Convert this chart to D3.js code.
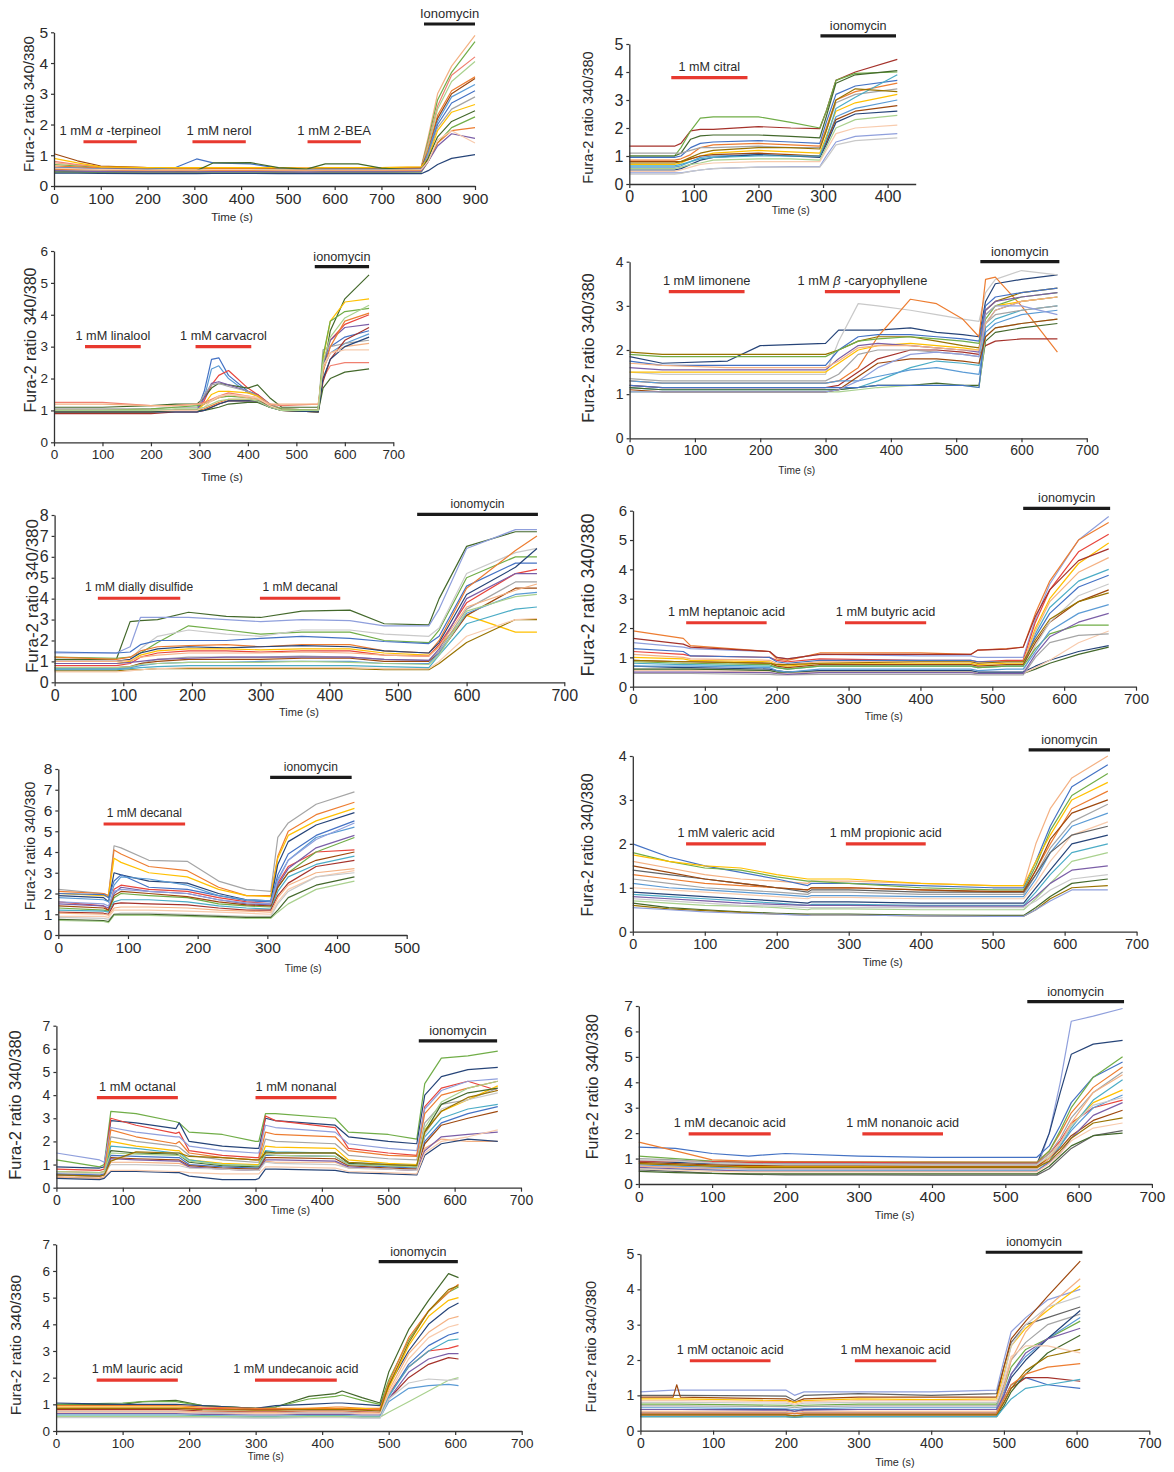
<!DOCTYPE html>
<html>
<head>
<meta charset="utf-8">
<script src="https://cdn.jsdelivr.net/npm/d3@7"></script>
<style>
  body { margin: 0; background: #fff; }
  svg text { font-family: "Liberation Sans", Arial, sans-serif; fill: #2b2b2b; }
</style>
</head>
<body>
<svg id="fig" width="1174" height="1472"></svg>
<script>
// trace colours (Excel-like palette)
const palette = {
  blue: "#4472c4", ltblue: "#5b9bd5", orange: "#ed7d31", grey: "#a5a5a5",
  yellow: "#ffc000", green: "#70ad47", navy: "#264478", brown: "#9e480e",
  dkgrey: "#636363", olive: "#997300", dkgreen: "#43682b", red: "#e8453c",
  peach: "#f4b183", lavender: "#8f9fdc", teal: "#4bacc6", purple: "#7b5ea7",
  ltgreen: "#a9d18e", ltgrey: "#c9c9c9", dkred: "#a5322b", ltorange: "#f8cbad",
  salmon: "#f08070"
};

// ---- panel 1 : alpha-terpineol / nerol / 2-BEA ----
const p1Time = [0, 50, 100, 200, 260, 305, 340, 420, 480, 540, 580, 650, 700, 785, 800, 820, 850, 900];
const p1Traces = [
  [0.75,0.68,0.62,0.6,0.6,0.6,0.6,0.6,0.6,0.58,0.6,0.6,0.6,0.62,1.6,3.0,3.9,4.9],
  [0.7,0.65,0.6,0.58,0.58,0.58,0.6,0.6,0.58,0.56,0.58,0.58,0.58,0.6,1.5,2.8,3.7,4.7],
  [0.8,0.7,0.62,0.6,0.6,0.6,0.6,0.6,0.6,0.58,0.6,0.6,0.6,0.6,1.4,2.6,3.6,4.2],
  [0.6,0.58,0.56,0.55,0.55,0.55,0.56,0.56,0.55,0.54,0.55,0.55,0.55,0.56,1.3,2.5,3.4,4.05],
  [0.65,0.62,0.58,0.56,0.56,0.56,0.57,0.57,0.56,0.55,0.56,0.56,0.56,0.58,1.2,2.3,3.1,3.55],
  [1.05,0.82,0.65,0.6,0.6,0.6,0.6,0.6,0.58,0.56,0.58,0.58,0.58,0.6,1.1,2.2,3.0,3.5],
  [0.55,0.53,0.52,0.5,0.5,0.5,0.52,0.52,0.5,0.5,0.5,0.5,0.5,0.52,1.1,2.1,2.9,3.3],
  [0.6,0.58,0.56,0.55,0.6,0.88,0.75,0.72,0.58,0.55,0.55,0.55,0.55,0.56,1.0,2.0,2.7,3.1],
  [0.5,0.5,0.48,0.47,0.47,0.47,0.48,0.48,0.47,0.46,0.47,0.47,0.47,0.48,1.0,1.9,2.5,2.9],
  [0.9,0.75,0.62,0.6,0.6,0.6,0.6,0.6,0.6,0.58,0.6,0.6,0.6,0.62,0.9,1.8,2.4,2.65],
  [0.48,0.47,0.46,0.46,0.47,0.5,0.75,0.76,0.6,0.55,0.72,0.72,0.58,0.5,0.9,1.6,2.1,2.45],
  [0.45,0.45,0.44,0.44,0.44,0.44,0.45,0.45,0.44,0.43,0.44,0.44,0.44,0.45,0.8,1.4,1.9,2.25],
  [0.55,0.53,0.52,0.5,0.5,0.5,0.5,0.5,0.5,0.5,0.5,0.5,0.5,0.5,0.8,1.4,1.8,1.9],
  [0.5,0.48,0.47,0.46,0.46,0.46,0.47,0.47,0.46,0.45,0.46,0.46,0.46,0.47,0.8,1.3,1.7,1.55],
  [0.42,0.42,0.41,0.4,0.4,0.4,0.41,0.41,0.4,0.4,0.4,0.4,0.4,0.4,0.5,0.7,0.9,1.02],
  [0.58,0.56,0.54,0.52,0.52,0.52,0.53,0.53,0.52,0.52,0.52,0.52,0.52,0.53,0.8,1.5,1.8,1.4]
];
const p1Colors = ["peach","green","salmon","ltgreen","orange","brown","ltblue","blue","grey","yellow","dkgreen","green","orange","purple","navy","ltorange"];
const p1Stim = ["1 mM α -terpineol", "1 mM nerol", "1 mM 2-BEA"];
const p1StimStart = [63, 296, 542];
const p1StimEnd = [177, 410, 656];
const p1Iono = [791, 900];
const p1XTicks = [0, 100, 200, 300, 400, 500, 600, 700, 800, 900];
const p1YTicks = [0, 1, 2, 3, 4, 5];

// ---- panel 2 : citral ----
const p2Time = [0, 70, 80, 95, 110, 130, 200, 250, 295, 305, 320, 350, 415];
const p2Traces = [
  [1.35,1.35,1.45,1.9,1.95,1.95,2.05,2.0,1.98,2.6,3.7,4.0,4.45],
  [1.0,1.0,1.3,1.9,2.35,2.4,2.4,2.2,2.0,2.6,3.7,3.95,4.0],
  [1.0,1.0,1.1,1.6,1.72,1.75,1.75,1.7,1.65,2.4,3.6,3.9,4.05],
  [0.95,0.95,1.0,1.3,1.45,1.5,1.55,1.5,1.45,2.2,3.2,3.5,3.7],
  [0.85,0.85,0.9,1.05,1.3,1.4,1.45,1.4,1.35,2.0,3.0,3.3,3.6],
  [1.1,1.1,1.1,1.2,1.3,1.3,1.35,1.3,1.3,1.9,2.9,3.2,3.4],
  [0.7,0.7,0.75,0.9,1.0,1.1,1.2,1.15,1.1,1.7,2.6,2.9,3.2],
  [0.6,0.6,0.65,0.8,0.95,1.0,1.05,1.0,1.0,1.5,2.4,2.7,3.0],
  [0.8,0.8,0.8,0.9,1.0,1.05,1.1,1.05,1.0,1.5,2.3,2.6,2.8],
  [0.5,0.5,0.55,0.7,0.85,0.95,1.05,1.0,0.95,1.4,2.2,2.5,2.6],
  [0.55,0.55,0.6,0.7,0.75,0.85,0.9,0.9,0.85,1.3,2.0,2.3,2.45],
  [0.45,0.45,0.5,0.6,0.7,0.75,0.8,0.8,0.8,1.2,1.8,2.0,2.1],
  [0.4,0.4,0.4,0.45,0.5,0.55,0.6,0.62,0.62,1.0,1.5,1.7,1.8],
  [0.35,0.35,0.38,0.45,0.5,0.55,0.6,0.6,0.6,0.9,1.4,1.55,1.65],
  [0.65,0.65,0.7,0.8,0.9,0.95,1.0,1.0,1.0,1.6,2.7,3.1,3.9],
  [0.75,0.75,0.8,0.95,1.1,1.2,1.3,1.3,1.25,1.9,3.0,3.4,3.3]
];
const p2Colors = ["dkred","green","dkgreen","blue","orange","grey","yellow","ltblue","brown","navy","ltgreen","ltorange","lavender","ltgrey","teal","olive"];
const p2Stim = ["1 mM citral"];
const p2StimStart = [65];
const p2StimEnd = [183];
const p2Iono = [296, 413];
const p2XTicks = [0, 100, 200, 300, 400];
const p2YTicks = [0, 1, 2, 3, 4, 5];

// ---- panel 3 : linalool / carvacrol ----
const p3Time = [0, 100, 200, 250, 295, 310, 325, 340, 360, 400, 420, 445, 470, 545, 555, 570, 600, 650];
const p3Traces = [
  [1.0,1.0,1.0,1.0,1.0,1.6,2.6,2.65,2.1,1.6,1.5,1.15,1.0,1.0,2.4,3.0,3.3,3.5],
  [0.95,0.95,0.95,0.95,0.95,1.4,2.3,2.4,2.0,1.55,1.5,1.2,1.0,1.0,2.3,2.8,3.1,3.4],
  [1.0,1.0,1.0,1.0,1.0,1.3,1.8,2.1,2.25,1.7,1.5,1.2,1.05,1.0,2.5,3.2,3.7,4.0],
  [1.1,1.1,1.15,1.2,1.2,1.4,1.7,1.85,1.8,1.7,1.8,1.4,1.1,1.1,2.2,3.5,4.5,5.25],
  [1.0,1.0,1.0,1.0,1.0,1.4,1.85,1.9,1.8,1.6,1.45,1.15,1.0,1.0,2.4,3.2,3.6,3.7],
  [1.05,1.05,1.05,1.1,1.1,1.5,1.8,1.85,1.75,1.6,1.45,1.2,1.05,1.0,2.9,3.0,3.1,3.2],
  [0.95,0.95,0.95,1.0,1.0,1.2,1.5,1.6,1.6,1.55,1.45,1.15,1.0,1.0,2.6,3.8,4.4,4.5],
  [1.25,1.25,1.15,1.15,1.2,1.25,1.35,1.45,1.55,1.45,1.4,1.2,1.15,1.2,2.0,2.4,2.5,2.5],
  [1.0,1.0,1.05,1.1,1.15,1.2,1.3,1.4,1.45,1.4,1.35,1.15,1.05,1.0,2.7,3.8,4.1,4.2],
  [0.9,0.9,0.9,0.95,0.95,1.0,1.1,1.2,1.3,1.3,1.3,1.15,1.0,0.95,1.9,2.6,3.2,3.6],
  [0.95,0.95,0.95,1.0,1.0,1.05,1.15,1.25,1.35,1.35,1.3,1.1,1.0,0.95,2.2,3.0,3.8,4.05],
  [1.2,1.2,1.15,1.15,1.2,1.2,1.3,1.4,1.5,1.4,1.35,1.2,1.2,1.2,2.3,2.8,3.0,3.1],
  [0.95,0.95,0.95,1.0,1.0,1.0,1.05,1.1,1.2,1.25,1.25,1.1,1.0,0.95,1.7,2.0,2.2,2.3],
  [0.95,0.95,0.95,0.95,0.95,1.0,1.1,1.2,1.3,1.3,1.3,1.1,1.0,0.95,2.0,2.6,3.0,3.3],
  [1.0,1.0,1.0,1.0,1.0,1.1,1.3,1.45,1.5,1.45,1.4,1.15,1.0,1.0,2.4,2.8,2.9,2.9],
  [1.0,1.0,1.0,1.05,1.05,1.1,1.2,1.3,1.35,1.35,1.3,1.1,1.0,1.0,2.5,3.3,3.9,4.3]
];
const p3Colors = ["blue","ltblue","red","dkgreen","purple","grey","yellow","salmon","green","dkred","orange","peach","dkgreen","navy","ltorange","ltgreen"];
const p3Stim = ["1 mM linalool", "1 mM carvacrol"];
const p3StimStart = [64, 292];
const p3StimEnd = [179, 407];
const p3Iono = [538, 650];
const p3XTicks = [0, 100, 200, 300, 400, 500, 600, 700];
const p3YTicks = [0, 1, 2, 3, 4, 5, 6];

// ---- panel 4 : limonene / beta-caryophyllene ----
const p4Time = [0, 50, 150, 200, 300, 320, 350, 380, 430, 470, 510, 535, 545, 560, 600, 655];
const p4Traces = [
  [1.85,1.7,1.75,2.1,2.15,2.45,2.45,2.45,2.5,2.4,2.35,2.3,3.1,3.5,3.6,3.7],
  [1.5,1.45,1.45,1.45,1.45,2.2,3.05,3.0,2.9,2.8,2.7,2.65,3.3,3.6,3.8,3.7],
  [1.3,1.25,1.25,1.25,1.25,1.3,1.6,2.3,3.15,3.05,2.7,2.3,3.6,3.65,3.0,1.95],
  [1.95,1.9,1.9,1.9,1.9,2.0,2.2,2.3,2.3,2.2,2.1,2.05,2.9,3.1,3.3,3.4],
  [1.75,1.65,1.65,1.65,1.65,2.0,2.3,2.35,2.35,2.3,2.25,2.2,3.0,3.2,3.3,3.4],
  [1.9,1.85,1.85,1.85,1.85,2.0,2.2,2.25,2.3,2.25,2.2,2.15,2.7,3.0,3.2,3.3],
  [1.2,1.15,1.15,1.15,1.15,1.2,1.5,1.8,2.0,2.0,1.95,1.9,2.1,2.2,2.25,2.25],
  [1.15,1.1,1.1,1.1,1.1,1.1,1.15,1.3,1.6,1.75,1.7,1.65,2.5,2.7,2.9,3.0],
  [1.3,1.25,1.25,1.25,1.25,1.3,1.3,1.4,1.55,1.6,1.5,1.45,2.4,2.6,2.8,2.9],
  [1.15,1.1,1.1,1.1,1.1,1.1,1.15,1.2,1.2,1.25,1.2,1.2,2.2,2.4,2.5,2.6],
  [1.05,1.05,1.05,1.05,1.05,1.05,1.1,1.15,1.2,1.2,1.2,1.15,2.3,2.5,2.6,2.7],
  [1.2,1.15,1.15,1.15,1.15,1.15,1.15,1.2,1.2,1.2,1.2,1.15,2.6,2.9,3.1,3.2],
  [1.5,1.5,1.5,1.5,1.5,1.7,2.0,2.1,2.15,2.1,2.05,2.0,2.8,3.0,3.1,3.2],
  [1.35,1.3,1.3,1.3,1.3,1.45,1.9,2.0,2.0,1.95,1.9,1.85,2.6,2.8,2.9,3.0],
  [1.1,1.05,1.05,1.05,1.05,1.1,1.4,1.7,1.8,1.8,1.75,1.7,2.3,2.5,2.6,2.7],
  [1.6,1.55,1.55,1.55,1.55,1.8,2.1,2.15,2.1,2.05,2.0,1.95,2.9,3.1,3.2,3.3],
  [1.7,1.65,1.6,1.6,1.6,1.75,2.05,2.1,2.1,2.05,2.0,2.0,2.6,2.9,3.1,3.2],
  [1.05,1.05,1.05,1.05,1.05,1.1,1.3,1.6,1.9,1.95,1.9,1.85,2.8,3.0,3.0,2.8]
];
const p4Colors = ["navy","ltgrey","orange","olive","blue","green","dkred","teal","ltblue","dkgreen","ltgreen","blue","yellow","grey","brown","purple","peach","lavender"];
const p4Stim = ["1 mM limonene", "1 mM β -caryophyllene"];
const p4StimStart = [60, 299];
const p4StimEnd = [176, 414];
const p4Iono = [537, 658];
const p4XTicks = [0, 100, 200, 300, 400, 500, 600, 700];
const p4YTicks = [0, 1, 2, 3, 4];

// ---- panel 5 : diallyl disulfide / decanal ----
const p5Time = [0, 90, 110, 125, 150, 195, 250, 300, 360, 430, 480, 545, 560, 600, 650, 672];
const p5Traces = [
  [1.1,1.1,2.9,2.95,3.0,3.35,3.15,3.1,3.4,3.45,2.8,2.75,4.0,6.5,7.2,7.2],
  [1.4,1.4,1.7,3.1,3.1,3.1,3.0,2.9,3.0,2.95,2.7,2.7,3.5,6.4,7.3,7.3],
  [1.2,1.15,1.2,1.4,1.9,2.7,2.5,2.3,2.4,2.4,2.0,1.9,2.5,5.0,6.0,6.0],
  [1.0,1.0,1.1,1.6,2.2,2.5,2.3,2.2,2.5,2.5,2.3,2.2,2.6,5.2,6.2,6.4],
  [1.45,1.4,1.45,1.8,2.0,2.0,2.0,2.1,2.2,2.1,1.95,1.85,2.2,4.6,5.7,5.7],
  [1.2,1.1,1.2,1.5,1.7,1.75,1.8,1.7,1.8,1.8,1.5,1.4,2.0,4.5,6.3,7.0],
  [1.0,1.0,1.1,1.4,1.6,1.7,1.65,1.7,1.75,1.7,1.5,1.4,1.9,4.2,5.5,6.4],
  [0.9,0.9,1.0,1.3,1.5,1.6,1.6,1.55,1.6,1.6,1.4,1.3,1.7,3.2,2.4,2.4],
  [0.8,0.8,0.9,1.2,1.4,1.5,1.5,1.45,1.5,1.5,1.3,1.25,1.8,3.8,5.2,5.4],
  [0.6,0.6,0.7,0.9,1.1,1.2,1.2,1.2,1.25,1.2,1.1,1.05,1.5,3.5,4.8,4.8],
  [0.7,0.7,0.75,0.9,1.0,1.1,1.1,1.1,1.15,1.15,1.0,1.0,1.4,3.2,4.5,4.5],
  [0.9,0.9,0.95,1.0,1.1,1.15,1.2,1.2,1.2,1.2,1.1,1.05,1.6,4.0,5.2,5.2],
  [0.65,0.65,0.7,0.8,0.9,0.95,0.95,1.0,1.0,1.0,0.9,0.9,1.4,3.3,4.2,4.3],
  [0.55,0.55,0.6,0.6,0.65,0.65,0.65,0.65,0.65,0.65,0.6,0.6,0.9,1.9,3.0,3.0],
  [0.5,0.5,0.55,0.6,0.65,0.7,0.7,0.7,0.7,0.7,0.65,0.65,1.0,2.2,3.0,3.05],
  [0.6,0.6,0.65,0.7,0.75,0.8,0.8,0.8,0.8,0.8,0.75,0.7,1.3,2.8,3.5,3.6],
  [1.0,1.0,1.05,1.2,1.3,1.4,1.4,1.4,1.45,1.4,1.3,1.25,1.7,3.6,4.4,4.7],
  [0.7,0.7,0.75,0.85,0.9,0.95,0.95,0.95,1.0,0.95,0.9,0.85,1.3,3.4,4.1,4.2]
];
const p5Colors = ["dkgreen","lavender","green","ltgrey","blue","orange","navy","yellow","red","grey","brown","purple","ltblue","olive","ltorange","teal","peach","ltgreen"];
const p5Stim = ["1 mM dially disulfide", "1 mM decanal"];
const p5StimStart = [63, 299];
const p5StimEnd = [183, 416];
const p5Iono = [528, 673];
const p5XTicks = [0, 100, 200, 300, 400, 500, 600, 700];
const p5YTicks = [0, 1, 2, 3, 4, 5, 6, 7, 8];

// ---- panel 6 : heptanoic / butyric acid ----
const p6Time = [0, 70, 80, 190, 200, 215, 260, 400, 470, 480, 520, 543, 560, 580, 620, 662];
const p6Traces = [
  [1.5,1.35,1.3,1.2,1.0,0.95,1.1,1.05,1.05,1.0,1.0,1.0,2.3,3.5,5.0,5.8],
  [1.9,1.65,1.4,1.2,0.95,0.9,1.15,1.15,1.1,1.25,1.3,1.35,2.5,3.6,5.0,5.6],
  [1.2,1.1,1.05,1.0,0.9,0.85,0.95,0.9,0.9,0.85,0.9,0.9,2.2,3.3,4.6,5.2],
  [1.0,0.95,0.9,0.85,0.75,0.7,0.8,0.8,0.8,0.75,0.8,0.8,2.0,3.0,4.2,4.9],
  [0.8,0.75,0.75,0.7,0.65,0.6,0.7,0.7,0.7,0.65,0.7,0.7,1.8,2.7,3.6,4.0],
  [1.3,1.2,1.05,1.0,0.85,0.8,0.9,0.9,0.9,0.85,0.85,0.85,1.7,2.5,3.4,3.8],
  [0.9,0.85,0.85,0.8,0.7,0.65,0.75,0.75,0.75,0.7,0.75,0.75,1.5,2.2,2.9,3.3],
  [0.6,0.6,0.6,0.55,0.5,0.5,0.55,0.55,0.55,0.5,0.5,0.5,1.4,2.2,3.1,3.5],
  [0.85,0.8,0.8,0.75,0.65,0.6,0.7,0.7,0.7,0.65,0.7,0.7,1.3,1.8,2.1,2.1],
  [0.7,0.65,0.65,0.6,0.55,0.5,0.55,0.55,0.55,0.5,0.5,0.5,0.7,0.9,1.2,1.4],
  [0.6,0.6,0.6,0.55,0.5,0.5,0.5,0.5,0.5,0.45,0.45,0.45,0.6,0.8,1.1,1.35],
  [0.55,0.55,0.55,0.5,0.45,0.45,0.5,0.5,0.5,0.45,0.45,0.45,0.65,0.9,1.5,1.9],
  [0.7,0.7,0.7,0.65,0.55,0.5,0.6,0.6,0.6,0.55,0.6,0.6,1.2,1.9,2.5,2.8],
  [1.1,1.0,0.95,0.9,0.8,0.75,0.85,0.85,0.85,0.8,0.85,0.85,1.9,2.9,3.9,4.4],
  [0.45,0.45,0.45,0.42,0.4,0.4,0.42,0.42,0.42,0.4,0.4,0.4,1.0,1.5,1.75,1.8],
  [0.5,0.5,0.5,0.48,0.45,0.42,0.48,0.48,0.48,0.45,0.45,0.45,1.1,1.7,2.2,2.5],
  [1.65,1.45,1.35,1.2,1.0,0.95,1.1,1.1,1.1,1.25,1.28,1.35,2.4,3.3,4.3,4.7],
  [0.9,0.85,0.85,0.8,0.75,0.75,0.8,0.85,0.85,0.8,0.85,0.85,1.6,2.3,2.9,3.2]
];
const p6Colors = ["lavender","orange","red","yellow","teal","blue","brown","ltgrey","green","navy","dkgreen","ltorange","ltblue","peach","grey","purple","dkred","olive"];
const p6Stim = ["1 mM heptanoic acid", "1 mM butyric acid"];
const p6StimStart = [74, 295];
const p6StimEnd = [186, 408];
const p6Iono = [543, 664];
const p6XTicks = [0, 100, 200, 300, 400, 500, 600, 700];
const p6YTicks = [0, 1, 2, 3, 4, 5, 6];

// ---- panel 7 : decanal ----
const p7Time = [0, 65, 72, 80, 90, 130, 185, 230, 270, 305, 315, 330, 370, 425];
const p7Traces = [
  [2.2,2.0,1.9,4.3,4.2,3.6,3.55,2.6,2.2,2.1,4.7,5.4,6.3,6.9],
  [2.1,2.0,1.9,4.1,3.9,3.3,3.1,2.3,1.9,1.9,3.8,5.0,5.8,6.4],
  [2.0,1.9,1.85,3.7,3.5,3.0,2.8,2.2,1.9,1.85,3.7,4.8,5.5,6.1],
  [1.9,1.8,1.6,3.0,2.9,2.6,2.5,2.0,1.7,1.65,3.4,4.5,5.3,5.9],
  [2.0,1.95,1.8,2.6,2.9,2.3,2.2,1.9,1.65,1.6,2.9,3.9,4.8,5.5],
  [1.8,1.7,1.6,2.4,2.8,2.7,2.4,1.9,1.7,1.65,2.7,3.6,4.7,5.2],
  [1.6,1.4,1.2,2.2,2.4,2.2,2.1,1.8,1.6,1.5,2.5,3.3,4.0,4.1],
  [1.5,1.4,1.3,2.0,2.3,2.1,2.0,1.7,1.5,1.45,2.4,3.2,4.2,4.8],
  [1.3,1.2,1.15,1.8,2.0,1.9,1.8,1.5,1.4,1.35,2.3,3.0,4.0,4.7],
  [1.2,1.15,1.1,1.6,1.7,1.7,1.6,1.4,1.3,1.25,2.1,2.8,3.4,3.8],
  [1.1,1.05,1.0,1.5,1.55,1.5,1.45,1.3,1.2,1.2,1.9,2.5,3.3,3.6],
  [1.05,1.0,0.95,1.3,1.35,1.35,1.3,1.2,1.15,1.1,1.8,2.4,3.0,3.2],
  [0.9,0.9,0.85,1.2,1.2,1.2,1.15,1.1,1.05,1.0,1.6,2.2,2.8,3.1],
  [0.7,0.65,0.6,0.95,0.95,0.95,0.9,0.85,0.8,0.8,1.1,1.5,2.2,2.6],
  [0.85,0.8,0.75,1.0,1.05,1.05,1.0,0.95,0.9,0.9,1.5,2.1,2.8,3.0],
  [0.75,0.7,0.65,1.0,1.0,1.0,0.95,0.9,0.85,0.85,1.2,1.8,2.4,2.8],
  [1.4,1.3,1.2,1.9,2.1,2.0,1.85,1.6,1.45,1.4,2.3,3.0,3.6,4.0],
  [1.6,1.5,1.4,2.1,2.2,2.1,2.0,1.7,1.55,1.5,2.6,3.6,4.6,5.4]
];
const p7Colors = ["grey","orange","yellow","navy","blue","ltblue","red","purple","green","teal","dkred","peach","ltorange","ltgreen","ltgrey","dkgreen","brown","lavender"];
const p7Stim = ["1 mM decanal"];
const p7StimStart = [65];
const p7StimEnd = [182];
const p7Iono = [304, 421];
const p7XTicks = [0, 100, 200, 300, 400, 500];
const p7YTicks = [0, 1, 2, 3, 4, 5, 6, 7, 8];

// ---- panel 8 : valeric / propionic acid ----
const p8Time = [0, 50, 100, 150, 200, 243, 248, 300, 400, 500, 543, 560, 580, 610, 660];
const p8Traces = [
  [1.6,1.45,1.3,1.2,1.15,1.1,1.15,1.15,1.1,1.05,1.05,2.0,2.8,3.5,4.0],
  [2.0,1.7,1.5,1.35,1.2,1.05,1.1,1.1,1.05,1.0,1.0,1.6,2.4,3.3,3.8],
  [1.8,1.6,1.45,1.4,1.25,1.15,1.15,1.1,1.0,0.95,0.95,1.5,2.3,3.1,3.6],
  [1.75,1.6,1.5,1.45,1.3,1.2,1.2,1.2,1.1,1.05,1.05,1.6,2.2,3.0,3.4],
  [1.3,1.2,1.1,1.05,1.0,0.95,1.0,1.0,0.95,0.9,0.9,1.4,2.0,2.8,3.2],
  [1.2,1.1,1.0,0.95,0.9,0.85,0.9,0.9,0.85,0.85,0.85,1.3,1.9,2.5,2.9],
  [1.1,1.0,0.95,0.9,0.85,0.8,0.82,0.82,0.8,0.8,0.8,1.2,1.8,2.4,2.7],
  [1.0,0.95,0.9,0.85,0.8,0.75,0.78,0.78,0.75,0.75,0.75,1.1,1.6,2.2,2.5],
  [0.9,0.85,0.8,0.75,0.7,0.65,0.68,0.68,0.65,0.65,0.65,1.0,1.4,2.0,2.2],
  [0.85,0.8,0.75,0.7,0.65,0.6,0.62,0.62,0.6,0.6,0.6,0.9,1.3,1.8,2.0],
  [0.7,0.65,0.6,0.58,0.55,0.5,0.52,0.52,0.5,0.5,0.5,0.75,1.1,1.6,1.8],
  [0.8,0.75,0.7,0.65,0.62,0.6,0.6,0.6,0.58,0.58,0.58,0.8,1.1,1.4,1.5],
  [0.75,0.7,0.65,0.6,0.58,0.55,0.55,0.55,0.55,0.55,0.55,0.7,0.95,1.2,1.3],
  [0.65,0.55,0.5,0.45,0.42,0.4,0.4,0.4,0.38,0.37,0.37,0.55,0.8,1.1,1.2],
  [0.6,0.52,0.48,0.44,0.4,0.38,0.38,0.38,0.36,0.35,0.35,0.5,0.75,1.0,1.05],
  [0.55,0.5,0.45,0.42,0.4,0.37,0.38,0.38,0.36,0.35,0.35,0.5,0.7,0.95,0.95],
  [1.4,1.3,1.2,1.1,1.0,0.9,0.95,0.95,0.9,0.9,0.9,1.3,1.8,2.2,2.4],
  [1.5,1.35,1.2,1.1,1.0,0.95,1.0,1.0,0.95,0.92,0.92,1.4,2.1,2.7,3.0]
];
const p8Colors = ["peach","blue","green","yellow","orange","grey","ltblue","ltorange","navy","teal","ltgreen","purple","ltgrey","dkgreen","olive","lavender","dkgrey","brown"];
const p8Stim = ["1 mM valeric acid", "1 mM propionic acid"];
const p8StimStart = [74, 296];
const p8StimEnd = [185, 407];
const p8Iono = [550, 663];
const p8XTicks = [0, 100, 200, 300, 400, 500, 600, 700];
const p8YTicks = [0, 1, 2, 3, 4];

// ---- panel 9 : octanal / nonanal ----
const p9Time = [0, 65, 72, 82, 120, 180, 185, 200, 250, 300, 305, 315, 330, 420, 440, 500, 543, 555, 580, 620, 665];
const p9Traces = [
  [1.2,0.9,1.0,3.3,3.2,2.85,2.8,2.4,2.3,2.0,2.0,3.2,3.2,3.0,2.4,2.3,2.1,4.5,5.6,5.7,5.9],
  [0.9,0.85,0.9,2.9,2.8,2.55,2.8,2.0,1.8,1.7,1.7,3.0,2.9,2.7,2.2,2.0,1.9,4.0,4.8,5.1,5.2],
  [0.8,0.75,0.8,3.0,2.7,2.35,2.4,1.6,1.4,1.3,1.3,3.1,2.9,2.6,1.7,1.5,1.4,3.5,4.3,4.6,4.2],
  [1.5,1.2,1.1,2.6,2.4,2.2,2.2,1.8,1.6,1.5,1.5,2.7,2.6,2.4,1.9,1.7,1.6,3.4,4.2,4.6,4.7],
  [0.7,0.65,0.7,2.5,2.2,1.9,2.0,1.5,1.3,1.2,1.2,2.4,2.3,2.2,1.6,1.4,1.35,3.2,4.0,4.3,4.6],
  [0.6,0.55,0.6,2.2,2.0,1.8,1.75,1.4,1.2,1.1,1.1,2.1,2.0,1.9,1.4,1.25,1.2,2.8,3.6,3.8,4.3],
  [0.5,0.5,0.55,2.0,1.8,1.6,1.6,1.2,1.05,1.0,1.0,1.8,1.75,1.7,1.2,1.05,1.0,2.5,3.3,3.8,4.4],
  [0.55,0.5,0.55,1.8,1.7,1.5,1.5,1.2,1.0,0.95,0.95,1.6,1.55,1.5,1.1,1.0,0.95,2.2,3.0,3.4,3.6],
  [0.45,0.45,0.5,1.6,1.5,1.45,1.4,1.1,0.95,0.9,0.9,1.55,1.5,1.5,1.05,0.95,0.9,2.4,3.6,4.1,4.3],
  [0.6,0.55,0.6,1.4,1.35,1.3,1.3,1.0,0.9,0.85,0.85,1.4,1.4,1.35,1.0,0.9,0.85,2.0,2.8,3.2,3.5],
  [0.5,0.45,0.5,1.3,1.25,1.2,1.2,0.95,0.85,0.8,0.8,1.3,1.3,1.25,0.95,0.85,0.8,1.9,2.7,3.0,3.3],
  [0.45,0.4,0.45,1.1,1.1,1.05,1.05,0.9,0.8,0.75,0.75,1.15,1.1,1.1,0.85,0.8,0.75,1.7,2.1,2.0,2.0],
  [0.55,0.5,0.55,1.25,1.2,1.15,1.15,0.9,0.8,0.75,0.75,1.2,1.2,1.15,0.9,0.8,0.75,1.6,2.2,2.3,2.4],
  [0.4,0.35,0.4,0.7,0.7,0.65,0.65,0.5,0.35,0.35,0.4,0.8,0.8,0.75,0.65,0.6,0.55,1.4,1.9,2.1,2.0],
  [0.5,0.45,0.5,0.75,0.75,0.7,0.7,0.65,0.6,0.6,0.6,0.9,0.9,0.85,0.7,0.65,0.6,1.5,2.0,2.2,2.5],
  [0.65,0.6,0.65,1.0,1.0,0.95,0.95,0.85,0.8,0.75,0.75,1.1,1.05,1.0,0.85,0.8,0.75,2.3,3.4,3.8,4.1],
  [0.7,0.65,0.7,1.5,1.45,1.4,1.4,1.15,1.0,0.95,0.95,1.45,1.4,1.35,1.0,0.95,0.9,2.6,3.7,4.3,4.6],
  [0.55,0.5,0.55,1.15,1.55,1.5,1.5,1.35,1.3,1.2,1.2,1.5,1.5,1.5,1.1,1.0,0.95,2.4,3.3,3.9,4.2]
];
const p9Colors = ["green","navy","red","lavender","orange","grey","yellow","teal","dkgreen","blue","brown","peach","purple","navy","ltorange","ltgrey","ltgreen","olive"];
const p9Stim = ["1 mM octanal", "1 mM nonanal"];
const p9StimStart = [61, 300];
const p9StimEnd = [183, 422];
const p9Iono = [546, 664];
const p9XTicks = [0, 100, 200, 300, 400, 500, 600, 700];
const p9YTicks = [0, 1, 2, 3, 4, 5, 6, 7];

// ---- panel 10 : decanoic / nonanoic acid ----
const p10Time = [0, 50, 100, 150, 200, 300, 400, 500, 543, 560, 575, 590, 620, 660];
const p10Traces = [
  [0.7,0.65,0.6,0.58,0.58,0.58,0.58,0.58,0.58,2.0,4.0,6.4,6.6,6.9],
  [0.9,0.85,0.8,0.78,0.78,0.78,0.78,0.78,0.78,2.0,3.6,5.1,5.5,5.65],
  [1.45,1.4,1.2,1.1,1.2,1.1,1.05,1.05,1.05,1.5,2.3,3.2,4.2,4.8],
  [1.65,1.3,0.95,0.9,0.88,0.87,0.87,0.86,0.86,1.3,2.0,2.8,3.8,4.6],
  [1.1,1.0,0.9,0.85,0.85,0.85,0.85,0.85,0.85,1.3,2.1,3.0,4.2,5.0],
  [0.9,0.9,0.88,0.85,0.85,0.85,0.82,0.82,0.82,1.2,1.7,2.4,3.0,3.3],
  [1.0,0.95,0.85,0.8,0.78,0.78,0.78,0.78,0.78,1.2,1.8,2.6,3.6,4.4],
  [0.8,0.75,0.7,0.68,0.68,0.68,0.68,0.68,0.68,1.1,1.6,2.3,3.2,3.7],
  [0.75,0.7,0.65,0.62,0.62,0.62,0.62,0.62,0.62,1.0,1.5,2.1,3.0,3.5],
  [0.6,0.58,0.55,0.52,0.52,0.52,0.52,0.52,0.52,0.9,1.5,2.2,3.3,4.1],
  [0.85,0.8,0.75,0.72,0.72,0.72,0.7,0.7,0.7,1.0,1.4,1.9,2.5,2.9],
  [0.65,0.6,0.55,0.5,0.5,0.5,0.5,0.5,0.5,0.85,1.2,1.8,2.7,3.2],
  [0.55,0.5,0.42,0.38,0.36,0.36,0.35,0.35,0.35,0.6,1.0,1.4,1.9,2.1],
  [0.5,0.45,0.42,0.4,0.4,0.4,0.4,0.4,0.4,0.7,1.1,1.5,1.9,2.0],
  [0.7,0.65,0.62,0.6,0.6,0.6,0.6,0.6,0.6,1.0,1.6,2.4,3.6,4.3],
  [0.95,0.9,0.82,0.78,0.75,0.75,0.75,0.75,0.75,1.1,1.6,2.3,3.1,3.4],
  [0.8,0.75,0.7,0.65,0.65,0.65,0.65,0.65,0.65,0.9,1.3,1.8,2.4,2.6],
  [0.6,0.55,0.5,0.48,0.48,0.48,0.48,0.48,0.48,0.8,1.2,1.7,2.2,2.4]
];
const p10Colors = ["lavender","navy","blue","orange","green","red","grey","yellow","ltblue","teal","brown","purple","dkgrey","dkgreen","peach","ltgrey","olive","ltorange"];
const p10Stim = ["1 mM decanoic acid", "1 mM nonanoic acid"];
const p10StimStart = [68, 305];
const p10StimEnd = [180, 415];
const p10Iono = [530, 662];
const p10XTicks = [0, 100, 200, 300, 400, 500, 600, 700];
const p10YTicks = [0, 1, 2, 3, 4, 5, 6, 7];

// ---- panel 11 : lauric / undecanoic acid ----
const p11Time = [0, 100, 130, 180, 220, 300, 330, 380, 420, 430, 460, 487, 500, 530, 560, 590, 605];
const p11Traces = [
  [1.0,1.0,1.1,1.15,0.95,0.85,0.9,1.3,1.4,1.5,1.25,1.05,2.2,3.8,4.9,5.9,5.75],
  [1.0,1.05,1.1,1.1,0.95,0.85,0.9,1.2,1.3,1.35,1.15,1.0,1.9,3.4,4.5,5.2,5.4],
  [1.05,1.0,1.0,1.0,0.95,0.85,0.95,1.0,1.05,1.05,1.0,0.95,1.7,3.0,4.0,4.6,4.8],
  [0.95,0.95,0.95,0.95,0.9,0.85,0.85,0.85,0.9,0.9,0.85,0.85,1.8,3.5,4.5,5.2,5.5],
  [0.9,0.9,0.9,0.9,0.85,0.8,0.8,0.85,0.85,0.85,0.85,0.8,1.6,3.2,4.3,4.9,5.0],
  [0.85,0.85,0.85,0.85,0.85,0.8,0.8,0.82,0.82,0.82,0.8,0.78,1.4,2.4,3.0,3.1,3.2],
  [0.8,0.8,0.8,0.8,0.75,0.72,0.72,0.75,0.75,0.75,0.72,0.7,1.2,2.0,2.5,2.75,2.7],
  [0.75,0.75,0.75,0.75,0.72,0.7,0.7,0.72,0.72,0.72,0.7,0.68,1.5,2.9,3.7,4.2,4.3],
  [0.7,0.7,0.7,0.7,0.68,0.65,0.65,0.68,0.68,0.68,0.65,0.65,1.3,2.5,3.2,3.6,3.7],
  [0.65,0.65,0.65,0.65,0.62,0.6,0.6,0.62,0.62,0.62,0.6,0.6,1.2,2.2,2.7,2.9,2.9],
  [0.6,0.6,0.6,0.6,0.58,0.55,0.55,0.58,0.58,0.58,0.55,0.55,1.3,2.4,3.0,3.4,3.45],
  [0.55,0.55,0.55,0.55,0.52,0.5,0.5,0.52,0.52,0.52,0.5,0.5,1.1,1.6,1.7,1.75,1.7],
  [0.55,0.55,0.55,0.55,0.55,0.52,0.52,0.55,0.55,0.55,0.52,0.52,0.7,1.1,1.5,1.9,2.0],
  [0.5,0.5,0.5,0.5,0.5,0.48,0.48,0.5,0.5,0.5,0.48,0.48,1.2,1.8,1.95,1.9,1.95],
  [0.7,0.7,0.7,0.7,0.68,0.65,0.65,0.68,0.68,0.68,0.65,0.65,1.4,2.7,3.5,3.9,4.0],
  [0.85,0.85,0.85,0.85,0.8,0.78,0.78,0.8,0.8,0.8,0.78,0.75,1.7,3.3,4.5,5.3,5.45]
];
const p11Colors = ["dkgreen","green","navy","orange","yellow","red","dkred","peach","blue","purple","teal","ltblue","ltgreen","ltgrey","ltorange","olive"];
const p11Stim = ["1 mM lauric acid", "1 mM undecanoic acid"];
const p11StimStart = [61, 299];
const p11StimEnd = [183, 422];
const p11Iono = [485, 604];
const p11XTicks = [0, 100, 200, 300, 400, 500, 600, 700];
const p11YTicks = [0, 1, 2, 3, 4, 5, 6, 7];

// ---- panel 12 : octanoic / hexanoic acid ----
const p12Time = [0, 45, 50, 55, 200, 212, 225, 300, 400, 490, 500, 510, 530, 560, 605];
const p12Traces = [
  [1.1,1.15,1.15,1.15,1.15,1.0,1.1,1.1,1.1,1.15,2.0,2.8,3.2,3.7,4.0],
  [1.0,1.0,1.0,1.0,0.98,0.85,1.0,1.05,1.0,1.05,1.8,2.5,3.0,3.2,3.5],
  [0.95,0.95,1.3,0.95,0.9,0.8,0.9,0.95,0.95,0.95,1.8,2.6,3.1,3.8,4.8],
  [0.9,0.9,0.9,0.9,0.85,0.8,0.85,0.9,0.88,0.9,1.6,2.4,2.9,3.4,4.1],
  [0.75,0.75,0.75,0.75,0.72,0.7,0.72,0.75,0.75,0.75,1.2,1.8,2.3,2.6,3.1],
  [0.7,0.7,0.7,0.7,0.68,0.65,0.68,0.7,0.7,0.7,1.3,2.0,2.5,3.0,3.3],
  [0.65,0.65,0.65,0.65,0.62,0.6,0.62,0.65,0.65,0.65,1.1,1.6,2.1,2.6,3.2],
  [0.6,0.6,0.6,0.6,0.6,0.55,0.6,0.6,0.6,0.6,1.0,1.5,2.0,2.6,3.4],
  [0.55,0.55,0.55,0.55,0.55,0.5,0.55,0.55,0.55,0.55,1.2,2.0,2.8,3.5,4.3],
  [0.5,0.5,0.5,0.5,0.5,0.48,0.5,0.5,0.5,0.5,0.9,1.3,1.5,1.3,1.2],
  [0.45,0.45,0.45,0.45,0.45,0.42,0.45,0.45,0.45,0.45,0.8,1.2,1.5,1.5,1.4],
  [0.4,0.4,0.4,0.4,0.4,0.38,0.4,0.4,0.4,0.4,0.7,1.1,1.6,2.2,2.7],
  [0.45,0.45,0.45,0.45,0.45,0.42,0.45,0.45,0.45,0.45,0.8,1.2,1.7,2.1,2.3],
  [0.5,0.5,0.5,0.5,0.5,0.48,0.5,0.5,0.5,0.5,0.9,1.3,1.6,1.8,1.9],
  [0.8,0.8,0.8,0.8,0.78,0.72,0.78,0.8,0.8,0.8,1.5,2.4,3.0,3.5,3.8],
  [0.6,0.6,0.6,0.6,0.58,0.55,0.58,0.6,0.6,0.6,1.0,1.6,2.2,2.6,2.9],
  [0.85,0.85,0.85,0.85,0.82,0.75,0.82,0.85,0.85,0.85,1.4,2.1,2.4,2.4,2.2],
  [0.4,0.4,0.4,0.4,0.4,0.38,0.4,0.4,0.4,0.4,0.65,0.9,1.2,1.3,1.45]
];
const p12Colors = ["lavender","dkgrey","brown","yellow","green","grey","ltblue","navy","peach","blue","dkred","dkgreen","olive","orange","ltgrey","purple","ltorange","teal"];
const p12Stim = ["1 mM octanoic acid", "1 mM hexanoic acid"];
const p12StimStart = [68, 295];
const p12StimEnd = [179, 407];
const p12Iono = [475, 608];
const p12XTicks = [0, 100, 200, 300, 400, 500, 600, 700];
const p12YTicks = [0, 1, 2, 3, 4, 5];

// ---- layout (pixel boxes, font sizes, bar heights in data units) ----
const panels = [
  { time: p1Time, traces: p1Traces, colors: p1Colors, stim: p1Stim, s0: p1StimStart, s1: p1StimEnd, iono: p1Iono, ionoText: "Ionomycin",
    xTicks: p1XTicks, yTicks: p1YTicks, xDomain: [0, 900], xRange: [54, 475], top: 32.3, bottom: 186, yMax: 5,
    barY: 1.44, ionoY: 5.27, tickFs: 15.5, yLabFs: 15, yLab: [29, 104], timeFs: 11.5, timeAt: [232, 217], stimFs: 13 },
  { time: p2Time, traces: p2Traces, colors: p2Colors, stim: p2Stim, s0: p2StimStart, s1: p2StimEnd, iono: p2Iono, ionoText: "ionomycin",
    xTicks: p2XTicks, yTicks: p2YTicks, xDomain: [0, 443.5], xRange: [629.3, 915.7], top: 44, bottom: 184, yMax: 5,
    barY: 3.8, ionoY: 5.29, tickFs: 16, yLabFs: 14.6, yLab: [588, 117.5], timeFs: 10.5, timeAt: [790.7, 210], stimFs: 12.6 },
  { time: p3Time, traces: p3Traces, colors: p3Colors, stim: p3Stim, s0: p3StimStart, s1: p3StimEnd, iono: p3Iono, ionoText: "ionomycin",
    xTicks: p3XTicks, yTicks: p3YTicks, xDomain: [0, 700], xRange: [54, 393.3], top: 251, bottom: 442.3, yMax: 6,
    barY: 3.0, ionoY: 5.51, tickFs: 13.5, yLabFs: 16, yLab: [30, 340], timeFs: 11.5, timeAt: [222, 477], stimFs: 12.7 },
  { time: p4Time, traces: p4Traces, colors: p4Colors, stim: p4Stim, s0: p4StimStart, s1: p4StimEnd, iono: p4Iono, ionoText: "ionomycin",
    xTicks: p4XTicks, yTicks: p4YTicks, xDomain: [0, 700], xRange: [629.6, 1086.8], top: 261.7, bottom: 438.3, yMax: 4,
    barY: 3.32, ionoY: 4.0, tickFs: 14, yLabFs: 16.5, yLab: [588.6, 348], timeFs: 10.2, timeAt: [796.8, 470], stimFs: 12.8 },
  { time: p5Time, traces: p5Traces, colors: p5Colors, stim: p5Stim, s0: p5StimStart, s1: p5StimEnd, iono: p5Iono, ionoText: "ionomycin",
    xTicks: p5XTicks, yTicks: p5YTicks, xDomain: [0, 600, 700], xRange: [54.6, 466.6, 564.3], top: 515, bottom: 682.3, yMax: 8,
    barY: 4.02, ionoY: 8.03, tickFs: 16, yLabFs: 17, yLab: [32, 596], timeFs: 11, timeAt: [299, 712], stimFs: 12 },
  { time: p6Time, traces: p6Traces, colors: p6Colors, stim: p6Stim, s0: p6StimStart, s1: p6StimEnd, iono: p6Iono, ionoText: "ionomycin",
    xTicks: p6XTicks, yTicks: p6YTicks, xDomain: [0, 700], xRange: [633, 1136], top: 510.7, bottom: 686.7, yMax: 6,
    barY: 2.18, ionoY: 6.08, tickFs: 15, yLabFs: 18, yLab: [587.8, 595], timeFs: 10.5, timeAt: [883.8, 716.7], stimFs: 12.7 },
  { time: p7Time, traces: p7Traces, colors: p7Colors, stim: p7Stim, s0: p7StimStart, s1: p7StimEnd, iono: p7Iono, ionoText: "ionomycin",
    xTicks: p7XTicks, yTicks: p7YTicks, xDomain: [0, 500], xRange: [58.3, 406.7], top: 769, bottom: 935, yMax: 8,
    barY: 5.35, ionoY: 7.6, tickFs: 15.5, yLabFs: 14.2, yLab: [30, 846], timeFs: 10.2, timeAt: [303.3, 968.3], stimFs: 12 },
  { time: p8Time, traces: p8Traces, colors: p8Colors, stim: p8Stim, s0: p8StimStart, s1: p8StimEnd, iono: p8Iono, ionoText: "ionomycin",
    xTicks: p8XTicks, yTicks: p8YTicks, xDomain: [0, 700], xRange: [632.8, 1136.6], top: 756, bottom: 931.7, yMax: 4,
    barY: 2.0, ionoY: 4.14, tickFs: 14.4, yLabFs: 15.8, yLab: [587, 845], timeFs: 11, timeAt: [882.8, 961.7], stimFs: 12.5 },
  { time: p9Time, traces: p9Traces, colors: p9Colors, stim: p9Stim, s0: p9StimStart, s1: p9StimEnd, iono: p9Iono, ionoText: "ionomycin",
    xTicks: p9XTicks, yTicks: p9YTicks, xDomain: [0, 700], xRange: [56.4, 521], top: 1025.7, bottom: 1187.7, yMax: 7,
    barY: 3.89, ionoY: 6.34, tickFs: 14, yLabFs: 16.5, yLab: [15, 1105], timeFs: 10.8, timeAt: [290.4, 1210], stimFs: 12.8 },
  { time: p10Time, traces: p10Traces, colors: p10Colors, stim: p10Stim, s0: p10StimStart, s1: p10StimEnd, iono: p10Iono, ionoText: "ionomycin",
    xTicks: p10XTicks, yTicks: p10YTicks, xDomain: [0, 700], xRange: [638.8, 1151.9], top: 1006, bottom: 1184, yMax: 7,
    barY: 1.97, ionoY: 7.17, tickFs: 15.5, yLabFs: 16, yLab: [592, 1086.7], timeFs: 10.9, timeAt: [894.5, 1215], stimFs: 12.6 },
  { time: p11Time, traces: p11Traces, colors: p11Colors, stim: p11Stim, s0: p11StimStart, s1: p11StimEnd, iono: p11Iono, ionoText: "ionomycin",
    xTicks: p11XTicks, yTicks: p11YTicks, xDomain: [0, 700], xRange: [56.1, 521.7], top: 1244.3, bottom: 1431, yMax: 7,
    barY: 1.91, ionoY: 6.35, tickFs: 13.5, yLabFs: 15.5, yLab: [15.5, 1345], timeFs: 10, timeAt: [265.8, 1456.7], stimFs: 12.5 },
  { time: p12Time, traces: p12Traces, colors: p12Colors, stim: p12Stim, s0: p12StimStart, s1: p12StimEnd, iono: p12Iono, ionoText: "ionomycin",
    xTicks: p12XTicks, yTicks: p12YTicks, xDomain: [0, 700], xRange: [640.4, 1149.3], top: 1254, bottom: 1430.7, yMax: 5,
    barY: 1.98, ionoY: 5.05, tickFs: 14, yLabFs: 14.5, yLab: [591, 1346.7], timeFs: 10.9, timeAt: [894.9, 1461.7], stimFs: 12.4 }
];

const svg = d3.select("#fig");
const intFmt = d3.format("d");

// label text, greek letter set in italics
function setLabel(sel, label) {
  label.split(/([αβ])/).forEach(part => {
    if (!part) return;
    const t = sel.append("tspan").text(part);
    if (/[αβ]/.test(part)) t.attr("font-style", "italic");
  });
}

function drawPanel(p) {
  const g = svg.append("g");
  const x = d3.scaleLinear().domain(p.xDomain).range(p.xRange);
  const y = d3.scaleLinear().domain([0, p.yMax]).range([p.bottom, p.top]);
  const line = d3.line().x(d => x(d[0])).y(d => y(d[1]));

  // traces
  p.traces.forEach((vals, i) => {
    const pts = p.time.map((t, j) => [t, vals[j]]).filter(d => d[1] != null);
    g.append("path")
      .datum(pts)
      .attr("fill", "none")
      .attr("stroke", palette[p.colors[i]])
      .attr("stroke-width", 1.2)
      .attr("stroke-linejoin", "round")
      .attr("d", line);
  });

  // axes
  const xAxis = g.append("g")
    .attr("transform", `translate(0,${p.bottom})`)
    .call(d3.axisBottom(x).tickValues(p.xTicks).tickFormat(intFmt).tickSize(4).tickSizeOuter(0).tickPadding(3));
  const yAxis = g.append("g")
    .attr("transform", `translate(${p.xRange[0]},0)`)
    .call(d3.axisLeft(y).tickValues(p.yTicks).tickFormat(intFmt).tickSize(3).tickSizeOuter(0).tickPadding(3));
  [xAxis, yAxis].forEach(a => {
    a.selectAll("path.domain").attr("stroke", "#333").attr("stroke-width", 1.3);
    a.selectAll(".tick line").attr("stroke", "#333").attr("stroke-width", 1.2);
    a.selectAll(".tick text")
      .attr("font-size", p.tickFs)
      .attr("fill", "#2b2b2b")
      .attr("font-family", '"Liberation Sans", Arial, sans-serif');
  });

  // stimulus bars (red) and labels
  p.stim.forEach((label, i) => {
    const x0 = x(p.s0[i]), x1 = x(p.s1[i]), yy = y(p.barY);
    g.append("line")
      .attr("x1", x0).attr("x2", x1).attr("y1", yy).attr("y2", yy)
      .attr("stroke", "#e8392f").attr("stroke-width", 3.2);
    const t = g.append("text")
      .attr("x", (x0 + x1) / 2).attr("y", yy - 7)
      .attr("text-anchor", "middle").attr("font-size", p.stimFs);
    setLabel(t, label);
  });

  // ionomycin bar
  const i0 = x(p.iono[0]), i1 = x(p.iono[1]), iy = y(p.ionoY);
  g.append("line")
    .attr("x1", i0).attr("x2", i1).attr("y1", iy).attr("y2", iy)
    .attr("stroke", "#1a1a1a").attr("stroke-width", 3.2);
  g.append("text")
    .attr("x", (i0 + i1) / 2).attr("y", iy - 6)
    .attr("text-anchor", "middle").attr("font-size", p.stimFs)
    .text(p.ionoText);

  // axis titles
  g.append("text")
    .attr("transform", `translate(${p.yLab[0]},${p.yLab[1]}) rotate(-90)`)
    .attr("text-anchor", "middle").attr("dy", "0.35em")
    .attr("font-size", p.yLabFs)
    .text("Fura-2 ratio 340/380");
  g.append("text")
    .attr("x", p.timeAt[0]).attr("y", p.timeAt[1])
    .attr("text-anchor", "middle").attr("dy", "0.35em")
    .attr("font-size", p.timeFs)
    .text("Time (s)");
}

panels.forEach(drawPanel);
</script>
</body>
</html>
